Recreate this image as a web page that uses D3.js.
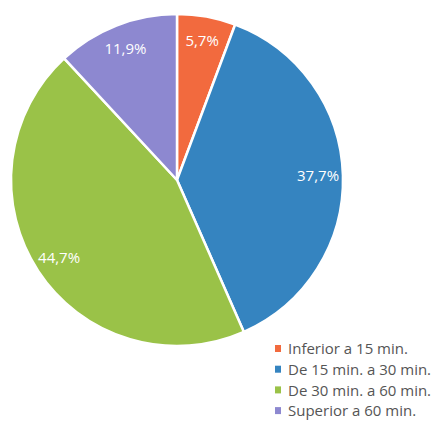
<!DOCTYPE html>
<html><head><meta charset="utf-8">
<script src="https://cdn.jsdelivr.net/npm/d3@7"></script>
<style>body{margin:0;background:#fff;}svg{display:block;}</style>
</head><body>
<svg id="c" width="436" height="421"></svg>
<script>
const categories = ["Inferior a 15 min.", "De 15 min. a 30 min.", "De 30 min. a 60 min.", "Superior a 60 min."];
const values = [5.7, 37.7, 44.7, 11.9];
const labels = ["5,7%", "37,7%", "44,7%", "11,9%"];
const colors = ["#F26A3E", "#3584C0", "#9AC248", "#8D88D0"];

const svg = d3.select("#c");
const cx = 177, cy = 180, R = 166;
const g = svg.append("g").attr("transform", `translate(${cx},${cy})`);
const pie = d3.pie().sort(null).value(d => d)(values);
const arc = d3.arc().innerRadius(0).outerRadius(R);
const labelArc = d3.arc().innerRadius(R * 0.85).outerRadius(R * 0.85);

g.selectAll("path").data(pie).join("path")
  .attr("d", arc).attr("fill", (d, i) => colors[i])
  .attr("stroke", "#fff").attr("stroke-width", 2.5).attr("stroke-linejoin", "round");

g.selectAll("text").data(pie).join("text")
  .attr("transform", d => `translate(${labelArc.centroid(d)})`)
  .attr("text-anchor", "middle").attr("dy", "0.35em")
  .attr("font-family", "Open Sans, sans-serif").attr("font-size", 15)
  .attr("fill", "#fff")
  .text((d, i) => labels[i]);

const leg = svg.append("g").attr("transform", "translate(275,349)");
const row = leg.selectAll("g").data(categories).join("g")
  .attr("transform", (d, i) => `translate(0,${i * 20.7})`);
row.append("rect").attr("x", 0).attr("y", -4).attr("width", 6).attr("height", 7)
  .attr("fill", (d, i) => colors[i]);
row.append("text").attr("x", 13).attr("dy", "0.35em")
  .attr("font-family", "Open Sans, sans-serif").attr("font-size", 15)
  .attr("fill", "#555").text(d => d);
</script>
</body></html>
